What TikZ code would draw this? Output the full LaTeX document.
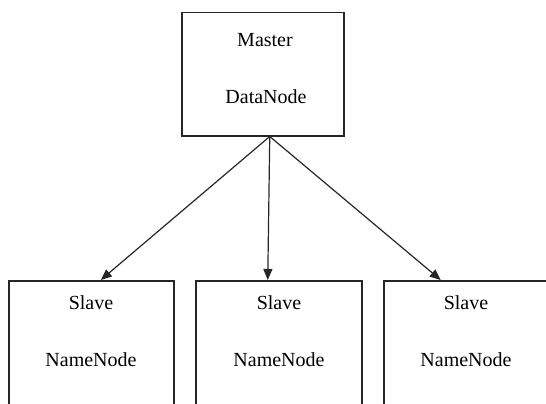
\documentclass[tikz,border=0pt]{standalone}
\usepackage{fontspec}
\setmainfont{Liberation Serif}
\usetikzlibrary{arrows.meta}
\begin{document}
\begin{tikzpicture}[x=1pt,y=-1pt,
  box/.style={draw=black!85,line width=1.5pt,rectangle,inner sep=0pt,anchor=north west},
  lbl/.style={font=\fontsize{20}{22}\selectfont,inner sep=0pt},
  arr/.style={line width=1.2pt,draw=black!85,-{Triangle[length=11pt,width=9pt]}}]
\useasboundingbox (0,0) rectangle (546,404);
\clip (0,0) rectangle (546,404);
\node[box,minimum width=162pt,minimum height=123pt] (m) at (181,12) {};
\node[lbl] (mt1) at (265,40) {Master};
\node[lbl] (mt2) at (266,97) {DataNode};
\node[box,minimum width=165pt,minimum height=160pt] (s1) at (8,280) {};
\node[box,minimum width=166pt,minimum height=160pt] (s2) at (195,280) {};
\node[box,minimum width=166pt,minimum height=160pt] (s3) at (383,280) {};
\foreach \i/\x in {1/91,2/279,3/466}{
  \node[lbl] (st\i) at (\x,303) {Slave};
  \node[lbl] (sn\i) at (\x,360) {NameNode};
}
\coordinate (src) at ([xshift=7pt]m.south);
\draw[arr] (src) -- ([xshift=9.5pt]s1.north);
\draw[arr] (src) -- ([xshift=-11pt]s2.north);
\draw[arr] (src) -- ([xshift=-26pt]s3.north);
\end{tikzpicture}
\end{document}
